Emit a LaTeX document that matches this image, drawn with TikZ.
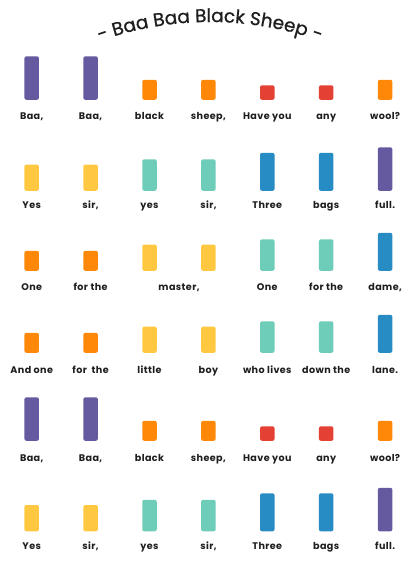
\documentclass[tikz,border=0pt]{standalone}
\usepackage{fontspec}
\setmainfont{Poppins}
\newfontfamily\titlefont{Poppins}[FakeBold=0.8]
\usetikzlibrary{decorations.text}
\definecolor{cpu}{RGB}{101,90,160}
\definecolor{cor}{RGB}{255,136,8}
\definecolor{cre}{RGB}{229,64,52}
\definecolor{cye}{RGB}{255,200,64}
\definecolor{cte}{RGB}{110,205,184}
\definecolor{cbl}{RGB}{40,140,196}
\definecolor{ctx}{RGB}{30,30,30}
\tikzset{
  bar/.style={rounded corners=2pt, minimum width=14.5pt, inner sep=0pt, anchor=south, draw=none},
  pu/.style={bar, fill=cpu, minimum height=43.5pt},
  bl/.style={bar, fill=cbl, minimum height=38pt},
  te/.style={bar, fill=cte, minimum height=31.5pt},
  ye/.style={bar, fill=cye, minimum height=26.3pt},
  or/.style={bar, fill=cor, minimum height=20pt},
  re/.style={bar, fill=cre, minimum height=14.5pt},
  lab/.style={anchor=base, inner sep=0pt, font=\bfseries\fontsize{9.6}{10}\selectfont\addfontfeature{LetterSpace=4}, text=ctx},
}
\begin{document}
\begin{tikzpicture}[x=1pt,y=-1pt]
\fill[white] (0,0) rectangle (413,570);
\useasboundingbox (0,0) rectangle (413,570);
% title
\path[decorate, decoration={text along path, text align=center,
  text={|\titlefont\fontsize{18.5}{20}\selectfont\color{ctx}|- Baa Baa Black Sheep -}}]
  (94,43) .. controls (170,15) and (250,15) .. (326,43);
% row 1
\foreach \i/\s/\t in {1/pu/{Baa,},2/pu/{Baa,},3/or/{black},4/or/{sheep,},5/re/{Have you},6/re/{any},7/or/{wool?}}{
  \node[\s] (b1-\i) at ({31.7+58.9*(\i-1)},100) {};
  \node[lab] (l1-\i) at ({31.7+58.9*(\i-1)},119.5) {\t};
}
% row 2
\foreach \i/\s/\t in {1/ye/{Yes},2/ye/{sir,},3/te/{yes},4/te/{sir,},5/bl/{Three},6/bl/{bags},7/pu/{full.}}{
  \node[\s] (b2-\i) at ({31.7+58.9*(\i-1)},191) {};
  \node[lab] (l2-\i) at ({31.7+58.9*(\i-1)},208.5) {\t};
}
% row 3
\foreach \i/\s in {1/or,2/or,3/ye,4/ye,5/te,6/te,7/bl}{
  \node[\s] (b3-\i) at ({31.7+58.9*(\i-1)},271) {};
}
\foreach \i/\t in {1/{One},2/{for the},5/{One},6/{for the},7/{dame,}}{
  \node[lab] (l3-\i) at ({31.7+58.9*(\i-1)},290.5) {\t};
}
\node[lab] (l3-3) at (179,290.5) {master,};
% row 4
\foreach \i/\s/\t in {1/or/{And one},2/or/{for\ \ the},3/ye/{little},4/ye/{boy},5/te/{who lives},6/te/{down the},7/bl/{lane.}}{
  \node[\s] (b4-\i) at ({31.7+58.9*(\i-1)},353) {};
  \node[lab] (l4-\i) at ({31.7+58.9*(\i-1)},373) {\t};
}
% row 5
\foreach \i/\s/\t in {1/pu/{Baa,},2/pu/{Baa,},3/or/{black},4/or/{sheep,},5/re/{Have you},6/re/{any},7/or/{wool?}}{
  \node[\s] (b5-\i) at ({31.7+58.9*(\i-1)},441) {};
  \node[lab] (l5-\i) at ({31.7+58.9*(\i-1)},461) {\t};
}
% row 6
\foreach \i/\s/\t in {1/ye/{Yes},2/ye/{sir,},3/te/{yes},4/te/{sir,},5/bl/{Three},6/bl/{bags},7/pu/{full.}}{
  \node[\s] (b6-\i) at ({31.7+58.9*(\i-1)},531.5) {};
  \node[lab] (l6-\i) at ({31.7+58.9*(\i-1)},549) {\t};
}
\end{tikzpicture}
\end{document}
